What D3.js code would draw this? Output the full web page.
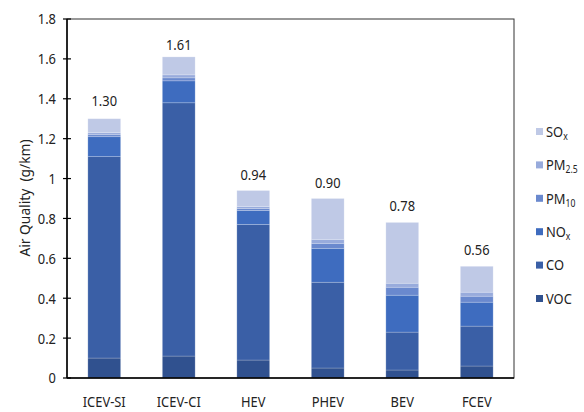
<!DOCTYPE html>
<html>
<head>
<meta charset="utf-8">
<script src="https://cdn.jsdelivr.net/npm/d3@7"></script>
<style>
  body { margin: 0; background: #fff; }
  text { font-family: 'Noto Sans', 'Liberation Sans', Arial, sans-serif; fill: #222; white-space: pre; }
</style>
</head>
<body>
<div id="chart"></div>
<script>
// vehicles and emissions (g/km), stacked bottom to top
const vehicles = ['ICEV-SI', 'ICEV-CI', 'HEV', 'PHEV', 'BEV', 'FCEV']
const voc = [0.10, 0.11, 0.09, 0.05, 0.04, 0.06]
const co = [1.01, 1.27, 0.68, 0.43, 0.19, 0.20]
const nox = [0.10, 0.11, 0.07, 0.17, 0.185, 0.12]
const pm10 = [0.01, 0.015, 0.01, 0.025, 0.04, 0.03]
const pm25 = [0.01, 0.015, 0.01, 0.02, 0.02, 0.02]
const sox = [0.07, 0.09, 0.08, 0.205, 0.305, 0.13]
const yTicks = [0, 0.2, 0.4, 0.6, 0.8, 1, 1.2, 1.4, 1.6, 1.8]

// label layout tweaks (px above bar top)
const labelGap = [13, 7, 11, 11, 11, 11]

const keys = ['voc', 'co', 'nox', 'pm10', 'pm25', 'sox']
const colors = {
  voc: '#30518f',
  co: '#3a5fa6',
  nox: '#3e6cbf',
  pm10: '#6a89ce',
  pm25: '#98abdc',
  sox: '#bfc9e6'
}

const rows = vehicles.map((v, i) => ({
  name: v, voc: voc[i], co: co[i], nox: nox[i], pm10: pm10[i], pm25: pm25[i], sox: sox[i]
}))

const width = 584
const height = 412
const margin = { top: 19, right: 70, bottom: 34, left: 67 }
const innerW = width - margin.left - margin.right
const innerH = height - margin.top - margin.bottom
const sx = 0.86 // narrow the text a bit, like the original font

const svg = d3.select('#chart').append('svg')
  .attr('width', width)
  .attr('height', height)

const g = svg.append('g').attr('transform', `translate(${margin.left},${margin.top})`)

const x = d3.scaleBand().domain(vehicles).range([0, innerW]).paddingInner(0.56).paddingOuter(0.28)
const y = d3.scaleLinear().domain([0, 1.8]).range([innerH, 0])

const stack = d3.stack().keys(keys)(rows)

g.selectAll('g.layer')
  .data(stack)
  .join('g')
  .attr('class', 'layer')
  .attr('fill', d => colors[d.key])
  .selectAll('rect')
  .data(d => d)
  .join('rect')
  .attr('x', d => x(d.data.name))
  .attr('width', x.bandwidth())
  .attr('y', d => y(d[1]))
  .attr('height', d => y(d[0]) - y(d[1]))
  .attr('stroke', '#fff')
  .attr('stroke-opacity', 0.25)
  .attr('stroke-width', 0.8)

// totals above bars
g.selectAll('text.total')
  .data(rows)
  .join('text')
  .attr('class', 'total')
  .attr('transform', (d, i) => `translate(${x(d.name) + x.bandwidth() / 2},${y(d3.sum(keys, k => d[k])) - labelGap[i]}) scale(${sx},1)`)
  .attr('text-anchor', 'middle')
  .attr('font-size', 15)
  .text(d => d3.sum(keys, k => d[k]).toFixed(2))

// frame
g.append('rect')
  .attr('width', innerW)
  .attr('height', innerH)
  .attr('fill', 'none')
  .attr('stroke', '#333')
  .attr('stroke-width', 1)

// y axis with crossing ticks
const yAxis = g.append('g')
yAxis.append('line')
  .attr('x1', 0).attr('x2', 0).attr('y1', 0).attr('y2', innerH)
  .attr('stroke', '#000').attr('stroke-width', 1.5)
yAxis.selectAll('line.tick')
  .data(yTicks)
  .join('line')
  .attr('class', 'tick')
  .attr('x1', -4).attr('x2', 4)
  .attr('y1', d => y(d)).attr('y2', d => y(d))
  .attr('stroke', '#000').attr('stroke-width', 1.2)
yAxis.selectAll('text')
  .data(yTicks)
  .join('text')
  .attr('transform', d => `translate(-11,${y(d)}) scale(${sx},1)`)
  .attr('dy', '0.36em')
  .attr('text-anchor', 'end')
  .attr('font-size', 15)
  .text(d => d)

// x axis
g.append('line')
  .attr('x1', 0).attr('x2', innerW).attr('y1', innerH).attr('y2', innerH)
  .attr('stroke', '#000').attr('stroke-width', 1.5)
g.selectAll('text.xlab')
  .data(vehicles)
  .join('text')
  .attr('class', 'xlab')
  .attr('transform', d => `translate(${x(d) + x.bandwidth() / 2},${innerH + 29}) scale(${sx},1)`)
  .attr('text-anchor', 'middle')
  .attr('font-size', 15)
  .text(d => d)

// y title
svg.append('text')
  .attr('transform', 'translate(30,198) rotate(-90) scale(0.92,1)')
  .attr('text-anchor', 'middle')
  .attr('font-size', 15)
  .attr('fill', '#333')
  .text('Air Quality  (g/km)')

// legend, top to bottom reversed order
const legendItems = [
  { key: 'sox', base: 'SO', sub: 'x' },
  { key: 'pm25', base: 'PM', sub: '2.5' },
  { key: 'pm10', base: 'PM', sub: '10' },
  { key: 'nox', base: 'NO', sub: 'x' },
  { key: 'co', base: 'CO', sub: '' },
  { key: 'voc', base: 'VOC', sub: '' }
]
const legend = svg.append('g').attr('transform', 'translate(536,131)')
const li = legend.selectAll('g')
  .data(legendItems)
  .join('g')
  .attr('transform', (d, i) => `translate(0,${i * 33.4})`)
li.append('rect')
  .attr('x', 0).attr('y', -3).attr('width', 7).attr('height', 7)
  .attr('fill', d => colors[d.key])
const lt = li.append('text')
  .attr('transform', `translate(10,0) scale(${sx},1)`)
  .attr('dy', '0.38em')
  .attr('font-size', 15)
lt.append('tspan').text(d => d.base)
lt.append('tspan')
  .attr('font-size', 10)
  .attr('dy', 3)
  .text(d => d.sub)
</script>
</body>
</html>
